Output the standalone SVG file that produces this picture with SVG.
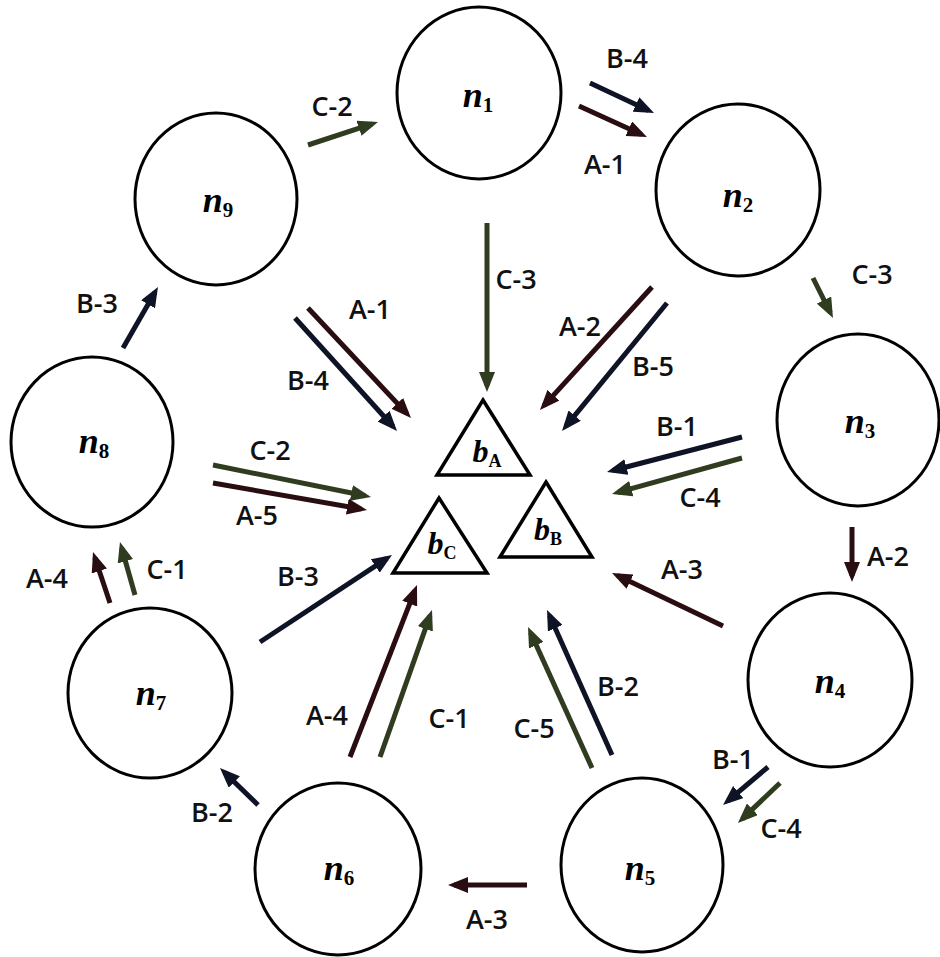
<svg xmlns="http://www.w3.org/2000/svg" width="940" height="957" viewBox="0 0 940 957">
<style>
.node{fill:#fff;stroke:#000;stroke-width:3}
.tri{fill:#fff;stroke:#000;stroke-width:3.5;stroke-linejoin:miter}
.nl{font-family:"Liberation Serif",serif;font-weight:bold;font-style:italic;font-size:36px;fill:#000}
.sub{font-style:normal;font-size:21px}
.bl{font-family:"Liberation Serif",serif;font-weight:bold;font-style:italic;font-size:32px;fill:#000}
.bsub{font-style:normal;font-size:18px}
.el{font-family:"Open Sans",sans-serif;font-weight:600;font-size:27px;fill:#111;text-anchor:middle}
.a{stroke:#2a0d10;stroke-width:5;fill:none;marker-end:url(#ma)}
.b{stroke:#0e1326;stroke-width:5;fill:none;marker-end:url(#mb)}
.c{stroke:#2f3c20;stroke-width:5;fill:none;marker-end:url(#mc)}
</style>
<defs>
<marker id="ma" markerUnits="userSpaceOnUse" markerWidth="20" markerHeight="16" viewBox="0 0 20 16" refX="14" refY="8" orient="auto"><path d="M0,0 L20,8 L0,16 z" fill="#2a0d10"/></marker>
<marker id="mb" markerUnits="userSpaceOnUse" markerWidth="20" markerHeight="16" viewBox="0 0 20 16" refX="14" refY="8" orient="auto"><path d="M0,0 L20,8 L0,16 z" fill="#0e1326"/></marker>
<marker id="mc" markerUnits="userSpaceOnUse" markerWidth="20" markerHeight="16" viewBox="0 0 20 16" refX="14" refY="8" orient="auto"><path d="M0,0 L20,8 L0,16 z" fill="#2f3c20"/></marker>
</defs>
<rect width="940" height="957" fill="#fff"/>

<g id="n1"><ellipse class="node" cx="479" cy="93" rx="82" ry="86"/><text class="nl" x="478" y="107" text-anchor="middle">n<tspan class="sub" dy="5">1</tspan></text></g>
<g id="n2"><ellipse class="node" cx="738" cy="190" rx="82" ry="86"/><text class="nl" x="738" y="207" text-anchor="middle">n<tspan class="sub" dy="5">2</tspan></text></g>
<g id="n3"><ellipse class="node" cx="858" cy="420" rx="81" ry="86"/><text class="nl" x="860" y="433" text-anchor="middle">n<tspan class="sub" dy="5">3</tspan></text></g>
<g id="n4"><ellipse class="node" cx="830" cy="680" rx="82" ry="87"/><text class="nl" x="830" y="693" text-anchor="middle">n<tspan class="sub" dy="5">4</tspan></text></g>
<g id="n5"><ellipse class="node" cx="642" cy="865" rx="81" ry="87"/><text class="nl" x="640" y="880" text-anchor="middle">n<tspan class="sub" dy="5">5</tspan></text></g>
<g id="n6"><ellipse class="node" cx="338" cy="869" rx="83" ry="86"/><text class="nl" x="339" y="880" text-anchor="middle">n<tspan class="sub" dy="5">6</tspan></text></g>
<g id="n7"><ellipse class="node" cx="150" cy="693" rx="82" ry="85"/><text class="nl" x="151" y="705" text-anchor="middle">n<tspan class="sub" dy="5">7</tspan></text></g>
<g id="n8"><ellipse class="node" cx="92" cy="442" rx="81" ry="85"/><text class="nl" x="94" y="453" text-anchor="middle">n<tspan class="sub" dy="5">8</tspan></text></g>
<g id="n9"><ellipse class="node" cx="216" cy="199" rx="81" ry="86"/><text class="nl" x="218" y="212" text-anchor="middle">n<tspan class="sub" dy="5">9</tspan></text></g>

<g id="bA"><polygon class="tri" points="483,400 530,475 437,475"/><text class="bl" x="487" y="462" text-anchor="middle">b<tspan class="bsub" dy="5">A</tspan></text></g>
<g id="bB"><polygon class="tri" points="546,482 592,557 500,557"/><text class="bl" x="548" y="540" text-anchor="middle">b<tspan class="bsub" dy="5">B</tspan></text></g>
<g id="bC"><polygon class="tri" points="439,498 487,573 393,573"/><text class="bl" x="442" y="554" text-anchor="middle">b<tspan class="bsub" dy="5">C</tspan></text></g>

<g id="connectors">
<line class="c" x1="308" y1="145" x2="372.3" y2="123.9"/>
<line class="b" x1="590" y1="83" x2="648.6" y2="110.5"/>
<line class="a" x1="579" y1="106" x2="641.5" y2="134.5"/>
<line class="c" x1="487" y1="223" x2="487" y2="386"/>
<line class="c" x1="813" y1="278" x2="830.3" y2="312.6"/>
<line class="a" x1="308" y1="308" x2="406.9" y2="413.6"/>
<line class="b" x1="295" y1="318" x2="393" y2="426.5"/>
<line class="c" x1="213" y1="465" x2="365.1" y2="495.8"/>
<line class="a" x1="213" y1="483" x2="361.1" y2="509"/>
<line class="a" x1="652" y1="287" x2="544" y2="405.6"/>
<line class="b" x1="667" y1="303" x2="565.8" y2="426.4"/>
<line class="b" x1="742" y1="437" x2="612.8" y2="470.5"/>
<line class="c" x1="742" y1="458" x2="617.8" y2="492.4"/>
<line class="a" x1="852" y1="527" x2="852" y2="576"/>
<line class="a" x1="723" y1="626" x2="617.4" y2="575.6"/>
<line class="b" x1="768" y1="767" x2="727.6" y2="801.1"/>
<line class="c" x1="780" y1="783" x2="742.3" y2="818.9"/>
<line class="b" x1="612" y1="755" x2="549.5" y2="615.5"/>
<line class="c" x1="592" y1="768" x2="530.5" y2="632.5"/>
<line class="c" x1="380" y1="757" x2="430" y2="615.7"/>
<line class="a" x1="350" y1="757" x2="414.8" y2="590.6"/>
<line class="b" x1="260" y1="642" x2="387" y2="558.3"/>
<line class="a" x1="527" y1="885" x2="454" y2="885"/>
<line class="b" x1="258" y1="805" x2="224.3" y2="772.2"/>
<line class="a" x1="110" y1="603" x2="94.9" y2="557.7"/>
<line class="c" x1="135" y1="595" x2="121.6" y2="547.8"/>
<line class="b" x1="123" y1="348" x2="155" y2="292.2"/>
</g>

<g id="edge-labels">
<text class="el" x="332" y="116">C-2</text>
<text class="el" x="627" y="68">B-4</text>
<text class="el" x="605" y="174">A-1</text>
<text class="el" x="516" y="289">C-3</text>
<text class="el" x="872" y="284">C-3</text>
<text class="el" x="370" y="319">A-1</text>
<text class="el" x="308" y="390">B-4</text>
<text class="el" x="270" y="460">C-2</text>
<text class="el" x="257" y="525">A-5</text>
<text class="el" x="580" y="336">A-2</text>
<text class="el" x="653" y="376">B-5</text>
<text class="el" x="677" y="436">B-1</text>
<text class="el" x="700" y="507">C-4</text>
<text class="el" x="888" y="566">A-2</text>
<text class="el" x="682" y="579">A-3</text>
<text class="el" x="733" y="769">B-1</text>
<text class="el" x="781" y="838">C-4</text>
<text class="el" x="618" y="696">B-2</text>
<text class="el" x="534" y="738">C-5</text>
<text class="el" x="449" y="728">C-1</text>
<text class="el" x="327" y="725">A-4</text>
<text class="el" x="298" y="586">B-3</text>
<text class="el" x="487" y="929">A-3</text>
<text class="el" x="212" y="822">B-2</text>
<text class="el" x="47" y="588">A-4</text>
<text class="el" x="167" y="579">C-1</text>
<text class="el" x="97" y="313">B-3</text>
</g>
</svg>
